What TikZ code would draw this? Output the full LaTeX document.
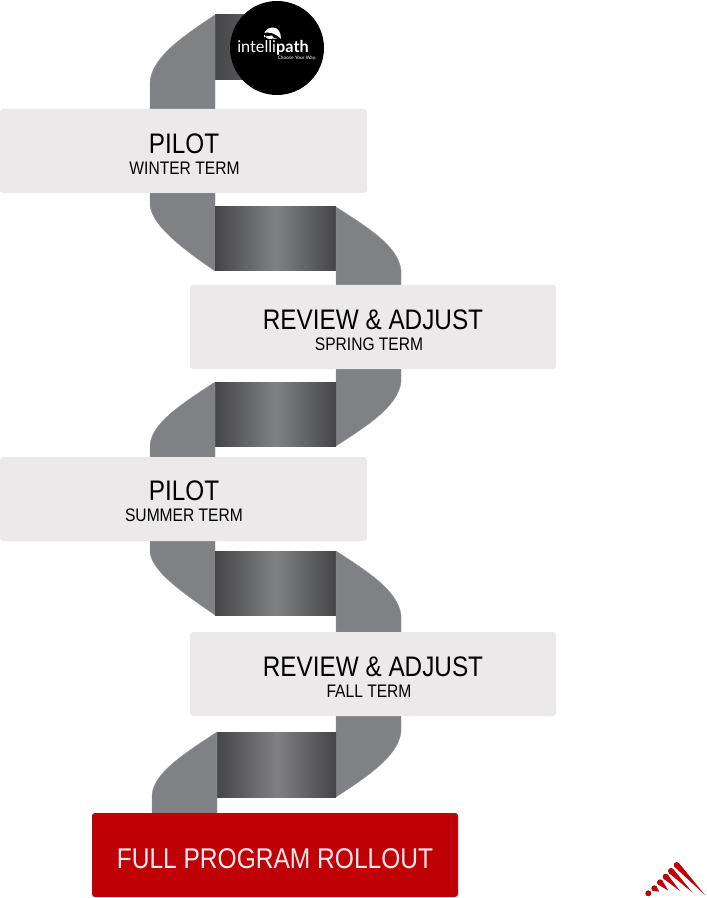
\documentclass[tikz,border=0pt]{standalone}
\usepackage{fontspec}
\setmainfont{Liberation Sans}[FakeStretch=0.86]
\newfontfamily\logofont{Lato}
\usetikzlibrary{calc}
\definecolor{ribbon}{HTML}{808184}
\definecolor{ribdark}{HTML}{454547}
\definecolor{boxgrey}{HTML}{EBE9EA}
\definecolor{redbox}{HTML}{C00007}
\tikzset{
  graypiece/.style={fill=ribbon,draw=ribbon!85!white,line width=.3pt},
  band/.style={left color=ribdark,right color=ribdark,middle color=ribbon},
  termbox/.style={fill=boxgrey,rounded corners=2.2pt},
  title/.style={font=\fontsize{21.2}{21}\selectfont,text=black,inner sep=0pt,anchor=center},
  subtitle/.style={font=\fontsize{13.6}{14}\selectfont,text=black,inner sep=0pt,anchor=center},
}
\newcommand{\streak}[4]{%
  \fill[redbox] (#1,#2) circle (3);
  \fill[redbox] ($(#1,#2)!2.2pt!90:(#3,#4)$) -- (#3,#4) -- ($(#1,#2)!2.2pt!-90:(#3,#4)$) -- cycle;
}
\begin{document}
\begin{tikzpicture}[x=0.75pt,y=-0.75pt]
\useasboundingbox (0,0) rectangle (706,898);
% ribbon top
\fill[left color=ribdark,right color=ribbon!85!black] (215,15) rectangle (277,80);
\draw[graypiece] (215,15) .. controls (180,38) and (152,58) .. (150,82) -- (150,109) -- (215,109) -- cycle;
% section 2
\draw[graypiece] (150,193) -- (215,193) -- (215,271) .. controls (180,247) and (152,225) .. (150,205) -- cycle;
\fill[band] (215,207) rectangle (336,271);
\draw[graypiece] (336,207) .. controls (365,226) and (398,245) .. (401,270) -- (401,285) -- (336,285) -- cycle;
% section 3
\draw[graypiece] (336,369) -- (401,369) -- (401,382) .. controls (398,407) and (365,427) .. (336,446) -- cycle;
\fill[band] (215,382) rectangle (336,446);
\draw[graypiece] (215,382) .. controls (180,405) and (152,423) .. (150,445) -- (150,457) -- (215,457) -- cycle;
% section 4
\draw[graypiece] (150,541) -- (215,541) -- (215,615) .. controls (180,591) and (152,571) .. (150,552) -- cycle;
\fill[band] (215,551) rectangle (336,615);
\draw[graypiece] (336,551) .. controls (365,570) and (398,590) .. (401,615) -- (401,632) -- (336,632) -- cycle;
% section 5
\draw[graypiece] (336,716) -- (401,716) -- (401,732) .. controls (398,757) and (365,778) .. (336,797) -- cycle;
\fill[band] (217,732) rectangle (336,797);
\draw[graypiece] (217,732) .. controls (182,755) and (154,773) .. (152,795) -- (152,813) -- (217,813) -- cycle;
% boxes
\fill[termbox] (0,109) rectangle (367,193);
\fill[termbox] (190,285) rectangle (556,369);
\fill[termbox] (0,457) rectangle (367,541);
\fill[termbox] (190,632) rectangle (556,716);
\fill[redbox,rounded corners=2.2pt] (92,813) rectangle (458,897);
% texts
\node[title] (t1) at (184,144) {PILOT};
\node[subtitle] (s1) at (184.5,168.5) {WINTER TERM};
\node[title] (t2) at (373,320) {REVIEW \& ADJUST};
\node[subtitle] (s2) at (369,344.5) {SPRING TERM};
\node[title] (t3) at (184,491) {PILOT};
\node[subtitle] (s3) at (184,515) {SUMMER TERM};
\node[title] (t4) at (373,667) {REVIEW \& ADJUST};
\node[subtitle] (s4) at (369,691.5) {FALL TERM};
\node[title,font=\fontsize{21.4}{21}\selectfont,text=white!92!red] (t5) at (275,859) {FULL PROGRAM ROLLOUT};
% logo
\fill[black] (277,48) circle (47);
\fill[white] (264,34) .. controls (265,29) and (270,27.5) .. (273,27.5) .. controls (278,27.5) and (281,32) .. (281,39) -- (264,39) -- cycle;
\fill[black] (263,33.5) .. controls (268,31) and (275,33) .. (282,40) -- (272,37.5) -- (275,39.5) .. controls (271,41) and (267,41) .. (263,38) -- (266,36.5) -- cycle;
\fill[white] (265.5,36.5) -- (272,35.5) -- (274,38.5) .. controls (271,39.5) and (267,39.5) .. (265.5,36.5) -- cycle;
\node[inner sep=0pt,text=white,anchor=center] (logo) at (273,48) {\logofont\fontsize{12.2}{13}\selectfont intelli\textbf{path}};
\node[inner sep=0pt,text=white,anchor=center] (tag) at (297,58.5) {\logofont\fontsize{3.6}{4}\selectfont Choose Your Way.};
% mark
\fill[redbox] (648.3,893.3) circle (3);
\streak{654.3}{888.3}{659.3}{891.7}
\streak{660}{882.3}{668.3}{890.7}
\streak{665.7}{876.7}{680}{891}
\streak{671}{871}{692.7}{892.7}
\streak{676.7}{865}{705}{895}
\end{tikzpicture}
\end{document}
